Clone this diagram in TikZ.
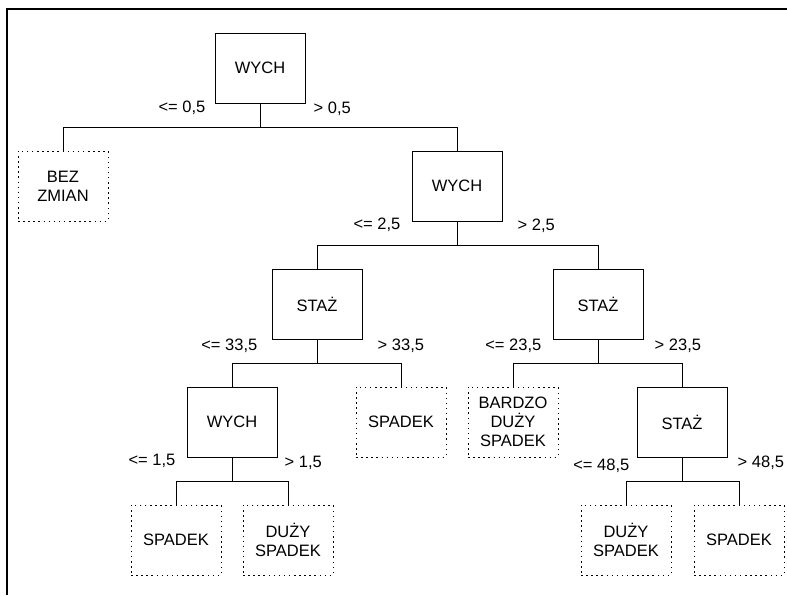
\documentclass[tikz,border=0pt]{standalone}
\usepackage{fontspec}
\setmainfont{Liberation Sans}
\usetikzlibrary{positioning}

\begin{document}
\begin{tikzpicture}[
        x=1pt, y=-1pt,
        split/.style={rectangle, draw, line width=1pt, minimum width=90pt, minimum height=70pt, inner sep=0pt, align=center, font=\fontsize{16.5}{19}\selectfont},
        leaf/.style={split, dash pattern=on 1.5pt off 3.6pt},
        cond/.style={inner sep=0pt, font=\fontsize{16.5}{19}\selectfont},
        branch/.style={line width=1pt}
    ]
        \useasboundingbox (0,0) rectangle (787,595);
        % Frame
        \draw[line width=1.3pt] (7,595) -- (7,9) -- (787,9);
        % Level 1
        \node[split] (root) at (260,68) {WYCH};
        % Level 2
        \node[leaf] (bez) at (63,186) {BEZ\\ZMIAN};
        \node[split] (wych2) at (457,186) {WYCH};
        % Level 3
        \node[split] (staz1) at (317,304) {STAŻ};
        \node[split] (staz2) at (598,304) {STAŻ};
        % Level 4
        \node[split] (wych3) at (232,422) {WYCH};
        \node[leaf] (spadek1) at (401,422) {SPADEK};
        \node[leaf] (bardzo) at (513,422) {BARDZO\\DUŻY\\SPADEK};
        \node[split] (staz3) at (682,422) {STAŻ};
        % Level 5
        \node[leaf] (spadek2) at (176,540) {SPADEK};
        \node[leaf] (duzy1) at (288,540) {DUŻY\\SPADEK};
        \node[leaf] (duzy2) at (626,540) {DUŻY\\SPADEK};
        \node[leaf] (spadek3) at (739,540) {SPADEK};
        % Branches
        \draw[branch] (root.south) -- ++(0,24) coordinate (j1) -| (bez.north);
        \draw[branch] (j1) -| (wych2.north);
        \draw[branch] (wych2.south) -- ++(0,24) coordinate (j2) -| (staz1.north);
        \draw[branch] (j2) -| (staz2.north);
        \draw[branch] (staz1.south) -- ++(0,24) coordinate (j3) -| (wych3.north);
        \draw[branch] (j3) -| (spadek1.north);
        \draw[branch] (staz2.south) -- ++(0,24) coordinate (j4) -| (bardzo.north);
        \draw[branch] (j4) -| (staz3.north);
        \draw[branch] (wych3.south) -- ++(0,24) coordinate (j5) -| (spadek2.north);
        \draw[branch] (j5) -| (duzy1.north);
        \draw[branch] (staz3.south) -- ++(0,24) coordinate (j6) -| (duzy2.north);
        \draw[branch] (j6) -| (spadek3.north);
        % Split conditions
        \node[cond, anchor=east] (c1l) at ([xshift=-9pt, yshift=-4pt]root.south west) {<= 0,5};
        \node[cond, anchor=west] (c1r) at ([xshift=8pt, yshift=-5pt]root.south east) {> 0,5};
        \node[cond, anchor=east] (c2l) at ([xshift=-11pt, yshift=-3pt]wych2.south west) {<= 2,5};
        \node[cond, anchor=west] (c2r) at ([xshift=15pt, yshift=-4pt]wych2.south east) {> 2,5};
        \node[cond, anchor=east] (c3l) at ([xshift=-14pt, yshift=-6pt]staz1.south west) {<= 33,5};
        \node[cond, anchor=west] (c3r) at ([xshift=15pt, yshift=-6pt]staz1.south east) {> 33,5};
        \node[cond, anchor=east] (c4l) at ([xshift=-11pt, yshift=-6pt]staz2.south west) {<= 23,5};
        \node[cond, anchor=west] (c4r) at ([xshift=11pt, yshift=-6pt]staz2.south east) {> 23,5};
        \node[cond, anchor=east] (c5l) at ([xshift=-11pt, yshift=-3pt]wych3.south west) {<= 1,5};
        \node[cond, anchor=west] (c5r) at ([xshift=7pt, yshift=-5pt]wych3.south east) {> 1,5};
        \node[cond, anchor=east] (c6l) at ([xshift=-7pt, yshift=-8pt]staz3.south west) {<= 48,5};
        \node[cond, anchor=west] (c6r) at ([xshift=10pt, yshift=-5pt]staz3.south east) {> 48,5};
    \end{tikzpicture}
\end{document}
